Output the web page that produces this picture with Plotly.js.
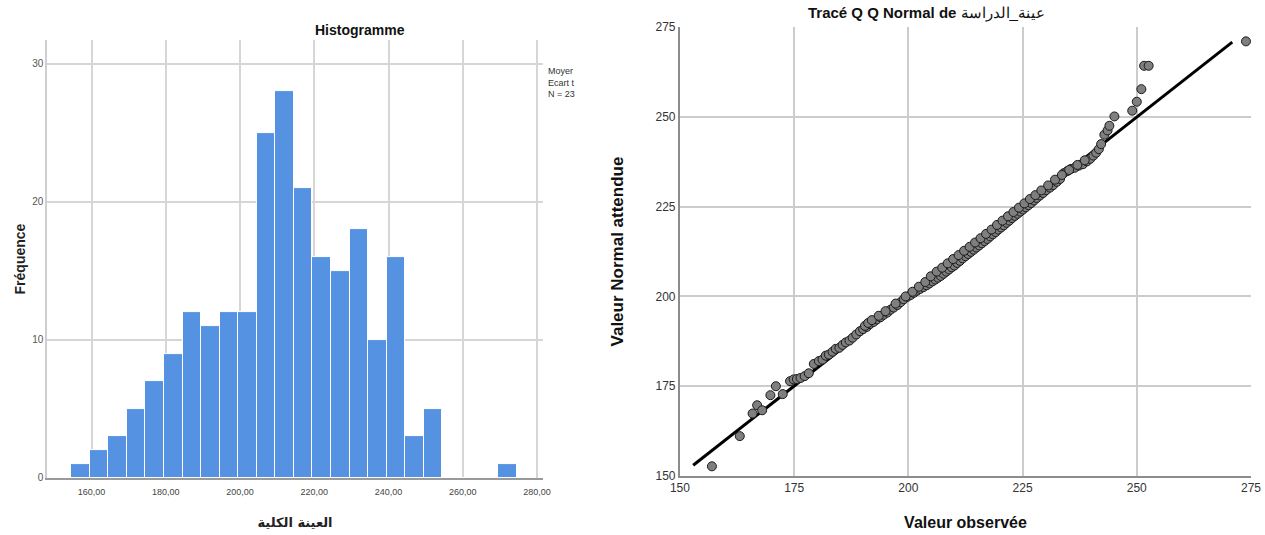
<!DOCTYPE html>
<html>
<head>
<meta charset="utf-8">
<script src="https://cdn.plot.ly/plotly-3.0.1.min.js"></script>
<style>html,body{margin:0;padding:0;background:#fff;}#chart{width:1265px;height:535px;}</style>
</head>
<body>
<div id="chart"></div>
<script>
// Histogram data (bin centres, bin width 5)
const binCenters = [157,162,167,172,177,182,187,192,197,202,207,212,217,222,227,232,237,242,247,252,257,262,267,272];
const binCounts  = [1,2,3,5,7,9,12,11,12,12,25,28,21,16,15,18,10,16,3,5,0,0,0,1];
const histTickVals = [160,180,200,220,240,260,280];
const histTickText = ["160,00","180,00","200,00","220,00","240,00","260,00","280,00"];
const histYTicks = [0,10,20,30];
const statsText = ["Moyer","Ecart t","N = 23"];

// Q-Q plot data (observed value, expected normal value)
const qqObserved = [157.0,163.1,165.9,166.9,169.8,171.0,168.0,172.5,174.1,174.9,175.6,176.4,177.3,178.2,179.3,180.4,181.2,181.9,182.6,183.4,184.1,184.9,185.6,186.3,187.1,187.8,188.6,189.4,190.1,190.9,191.6,192.4,193.1,193.9,194.6,195.4,196.1,196.8,197.6,198.3,199.0,199.8,200.5,201.2,201.9,202.6,203.3,204.0,204.6,205.3,205.9,206.5,207.1,207.7,208.3,208.9,209.5,210.1,210.7,211.3,211.9,212.5,213.1,213.7,214.3,214.9,215.5,216.1,216.7,217.3,217.9,218.5,219.1,219.7,220.3,220.9,221.5,222.1,222.7,223.3,223.9,224.5,225.1,225.7,226.3,226.9,227.5,228.1,228.8,229.5,230.2,231.0,231.7,232.5,233.2,234.0,234.8,235.6,236.4,237.3,238.2,239.1,239.8,240.5,241.1,241.7,242.2,242.9,243.6,244.0,245.1,249.0,250.0,251.0,251.6,252.6,273.9,
  190.5,191.2,192.0,193.5,195.0,197.2,199.4,200.9,202.3,203.7,204.9,206.2,207.4,208.6,209.8,211.0,212.2,213.4,214.6,215.8,217.0,218.2,219.4,220.6,221.8,223.0,224.2,225.4,226.6,227.8,229.1,230.6,232.1,233.6,235.2,237.0,238.6];
const qqExpected = [152.7,161.1,167.4,169.7,172.5,175.0,168.3,172.8,176.4,176.9,177.0,177.3,177.8,178.6,181.2,182.0,182.4,183.5,183.8,184.6,185.4,185.7,186.5,187.2,187.7,188.5,189.4,190.3,190.9,191.5,192.3,192.9,193.6,194.2,194.9,195.5,196.3,196.9,197.6,198.4,199.2,199.9,200.4,201.0,201.6,202.1,202.6,203.1,203.6,204.2,204.7,205.2,205.7,206.3,206.9,207.5,208.1,208.6,209.3,209.9,210.6,211.2,211.8,212.4,213.0,213.6,214.2,214.8,215.4,216.0,216.7,217.3,217.9,218.6,219.2,219.8,220.5,221.1,221.8,222.4,223.0,223.6,224.2,224.8,225.4,226.0,226.7,227.4,228.1,228.8,229.6,230.3,231.0,231.9,232.7,234.3,234.9,235.5,235.8,236.4,236.8,237.6,238.3,239.2,240.0,241.0,242.4,245.0,246.2,247.5,250.1,251.7,254.2,257.7,264.2,264.2,271.0,
  191.8,192.6,193.4,194.6,195.9,198.0,200.0,201.3,202.7,204.0,205.6,206.9,208.0,209.2,210.4,211.5,212.7,213.8,215.0,216.2,217.4,218.6,219.9,221.1,222.3,223.5,224.7,225.9,227.1,228.2,229.5,230.9,232.5,233.8,235.2,236.6,237.9];
const refLineX = [152.9, 270.9];
const refLineY = [153.0, 270.8];
const qqTicks = [150,175,200,225,250,275];

const FONT = "Liberation Sans, Arial, Helvetica, sans-serif";

const traces = [
  {
    type: "bar", x: binCenters, y: binCounts, width: 5,
    xaxis: "x", yaxis: "y",
    marker: {color: "#5593e2", line: {color: "#ffffff", width: 1}},
    hoverinfo: "x+y", showlegend: false
  },
  {
    type: "scatter", mode: "lines", x: refLineX, y: refLineY,
    xaxis: "x2", yaxis: "y2",
    line: {color: "#000000", width: 3}, showlegend: false, hoverinfo: "skip"
  },
  {
    type: "scatter", mode: "markers", x: qqObserved, y: qqExpected,
    xaxis: "x2", yaxis: "y2",
    marker: {color: "#7f7f7f", size: 9, line: {color: "#1a1a1a", width: 1}},
    showlegend: false
  }
];

const layout = {
  width: 1265, height: 535, autosize: false,
  paper_bgcolor: "#ffffff", plot_bgcolor: "#ffffff",
  margin: {l: 47, r: 14, t: 27, b: 57},
  font: {family: FONT, color: "#333333"},
  bargap: 0,
  xaxis: {
    domain: [0, 0.412], range: [148, 281.6], anchor: "y",
    tickvals: histTickVals, ticktext: histTickText,
    tickfont: {size: 9, color: "#444444"}, ticks: "", ticklabelstandoff: 4,
    showgrid: true, gridcolor: "#d6d6d6", gridwidth: 1.5,
    showline: true, linecolor: "#9a9a9a", linewidth: 2, zeroline: false,
    title: {text: "<b>العينة الكلية</b>", font: {size: 13, color: "#222222", family: "DejaVu Sans, sans-serif"}, standoff: 22},
    fixedrange: true
  },
  yaxis: {
    domain: [0, 0.971], range: [0, 31.7], anchor: "x",
    tickvals: histYTicks, tickfont: {size: 10, color: "#555555"}, ticks: "",
    showgrid: true, gridcolor: "#d6d6d6", gridwidth: 1.5,
    showline: true, linecolor: "#cfcfcf", linewidth: 1.5, zeroline: false,
    title: {text: "<b>Fréquence</b>", font: {size: 14, color: "#222222"}, standoff: 3},
    fixedrange: true
  },
  xaxis2: {
    domain: [0.5257, 1], range: [150, 275], anchor: "y2",
    tickvals: qqTicks, tickfont: {size: 12, color: "#333333"}, ticks: "",
    showgrid: true, gridcolor: "#cccccc", gridwidth: 1.5,
    showline: true, linecolor: "#8c8c8c", linewidth: 2, zeroline: false,
    title: {text: "<b>Valeur observée</b>", font: {size: 16, color: "#111111"}, standoff: 22},
    fixedrange: true
  },
  yaxis2: {
    domain: [0.0044, 1], range: [150, 275], anchor: "x2",
    tickvals: qqTicks, tickfont: {size: 12, color: "#333333"}, ticks: "",
    showgrid: true, gridcolor: "#cccccc", gridwidth: 1.5,
    showline: true, linecolor: "#8c8c8c", linewidth: 2, zeroline: false,
    title: {text: "<b>Valeur Normal attendue</b>", font: {size: 17, color: "#111111"}, standoff: 28},
    fixedrange: true
  },
  annotations: [
    {text: "<b>Histogramme</b>", xref: "paper", yref: "paper", x: (360-47)/1204, y: (478-30)/451,
     xanchor: "center", yanchor: "middle", showarrow: false, font: {size: 14, color: "#111111"}},
    {text: "<b>Tracé Q Q Normal de</b> عينة_الدراسة", xref: "paper", yref: "paper", x: (926-47)/1204, y: (478-13)/451,
     xanchor: "center", yanchor: "middle", showarrow: false, font: {size: 15, color: "#111111"}},
    {text: statsText.join("<br>"), xref: "paper", yref: "paper", x: (546-47)/1204, y: (478-64)/451,
     xanchor: "left", yanchor: "top", align: "left", showarrow: false, font: {size: 9, color: "#333333"}}
  ]
};

Plotly.newPlot("chart", traces, layout, {displayModeBar: false, staticPlot: false});
</script>
</body>
</html>
